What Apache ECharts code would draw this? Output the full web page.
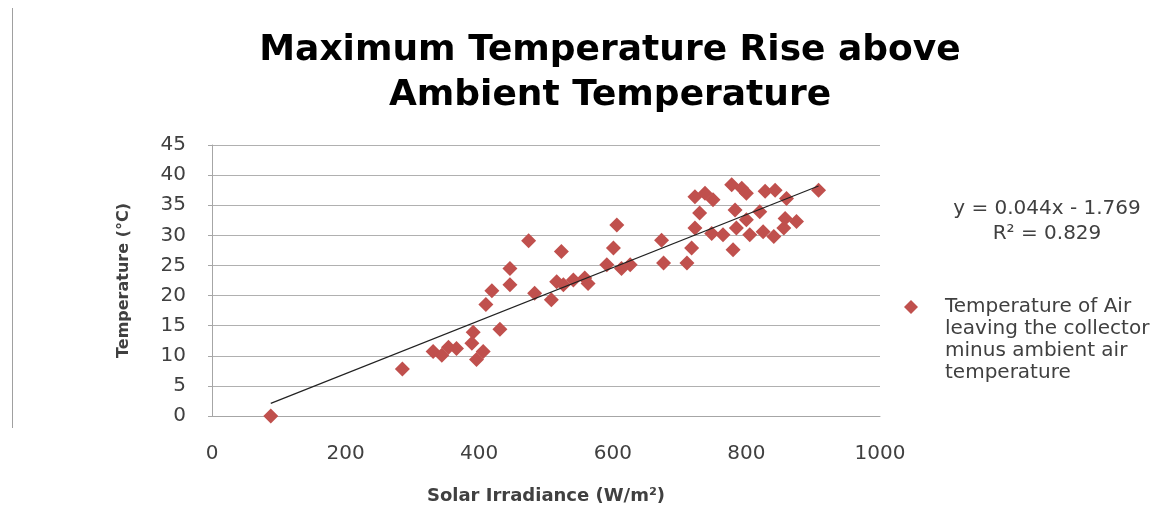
<!DOCTYPE html>
<html>
<head>
<meta charset="utf-8">
<script src="https://cdn.jsdelivr.net/npm/echarts@6/dist/echarts.min.js"></script>
<style>
html,body{margin:0;padding:0;background:#fff;}
#chart{width:1171px;height:529px;}
</style>
</head>
<body>
<div id="chart"></div>
<script>
var irradiance = [88, 285, 331, 344, 354, 366, 389, 391, 396, 406, 410, 419, 431, 446, 446, 474, 483, 508, 516, 523, 526, 541, 558, 563, 591, 601, 606, 613, 626, 673, 676, 711, 718, 723, 723, 730, 738, 748, 750, 765, 778, 780, 783, 785, 793, 800, 800, 805, 820, 825, 828, 841, 843, 856, 858, 860, 875, 908];
var tempRise   = [0, 7.8, 10.7, 10.1, 11.4, 11.2, 12.1, 13.9, 9.4, 10.7, 18.5, 20.8, 14.4, 21.8, 24.5, 29.1, 20.4, 19.3, 22.3, 27.3, 21.8, 22.6, 22.9, 22.0, 25.1, 27.9, 31.7, 24.5, 25.1, 29.2, 25.4, 25.4, 27.9, 36.4, 31.2, 33.7, 37.0, 30.3, 35.9, 30.1, 38.4, 27.6, 34.2, 31.2, 37.8, 37.0, 32.6, 30.1, 33.9, 30.6, 37.3, 29.8, 37.5, 31.2, 32.8, 36.1, 32.3, 37.5];
var trendSlope = 0.044;
var trendIntercept = -1.769;
var rSquared = 0.829;
var xTicks = [0, 200, 400, 600, 800, 1000];
var yTicks = [0, 5, 10, 15, 20, 25, 30, 35, 40, 45];
var seriesName = 'Temperature of Air\nleaving the collector\nminus ambient air\ntemperature';

var points = irradiance.map(function (x, i) { return [x, tempRise[i]]; });
var xMin = Math.min.apply(null, irradiance), xMax = Math.max.apply(null, irradiance);
var trend = [[xMin, trendSlope * xMin + trendIntercept], [xMax, trendSlope * xMax + trendIntercept]];

var chart = echarts.init(document.getElementById('chart'), null, {renderer: 'canvas'});
chart.setOption({
  backgroundColor: '#ffffff',
  animation: false,
  textStyle: {fontFamily: 'DejaVu Sans'},
  title: {
    text: 'Maximum Temperature Rise above\nAmbient Temperature',
    left: 605, top: 23, textAlign: 'center',
    textStyle: {fontFamily: 'DejaVu Sans', fontWeight: 'bold', fontSize: 36, lineHeight: 45, color: '#000'}
  },
  grid: {left: 212, right: 291, top: 145, bottom: 113, containLabel: false},
  xAxis: {
    type: 'value', min: xTicks[0], max: xTicks[xTicks.length - 1], interval: 200,
    name: 'Solar Irradiance (W/m²)', nameLocation: 'middle', nameGap: 71,
    nameTextStyle: {fontFamily: 'DejaVu Sans', fontWeight: 'bold', fontSize: 18, color: '#404040'},
    axisLine: {show: true, lineStyle: {color: '#a6a6a6', width: 1}},
    axisTick: {show: false},
    axisLabel: {margin: 28, fontSize: 20, color: '#404040', fontFamily: 'DejaVu Sans',
      formatter: function (v) { return String(v); }},
    splitLine: {show: false}
  },
  yAxis: {
    type: 'value', min: yTicks[0], max: yTicks[yTicks.length - 1], interval: 5,
    name: 'Temperature (°C)', nameLocation: 'middle', nameGap: 80,
    nameTextStyle: {fontFamily: 'DejaVu Sans', fontWeight: 'bold', fontSize: 16, color: '#404040'},
    axisLine: {show: true, lineStyle: {color: '#a6a6a6', width: 1}},
    axisTick: {show: true, length: 4, lineStyle: {color: '#a6a6a6'}},
    axisLabel: {margin: 26, fontSize: 20, color: '#404040', fontFamily: 'DejaVu Sans'},
    splitLine: {show: true, lineStyle: {color: '#b0b0b0', width: 1}}
  },
  legend: {
    left: 899, top: 225, orient: 'vertical',
    icon: 'diamond', itemWidth: 14, itemHeight: 14,
    data: [seriesName],
    formatter: function (name) { return '\n\n\n' + name; },
    textStyle: {fontSize: 20, lineHeight: 22, color: '#404040', fontFamily: 'DejaVu Sans', padding: [0, 0, 0, 22]}
  },
  graphic: [
    {type: 'line', shape: {x1: 12.5, y1: 8, x2: 12.5, y2: 428}, style: {stroke: '#a0a0a0', lineWidth: 1}},
    {type: 'text', x: 1047, y: 196, style: {
      text: 'y = ' + trendSlope.toFixed(3) + 'x - ' + Math.abs(trendIntercept).toFixed(3) + '\nR² = ' + rSquared.toFixed(3),
      x: 0, y: 0, align: 'center', verticalAlign: 'top',
      fontSize: 20, lineHeight: 25, fill: '#404040', fontFamily: 'DejaVu Sans'}}
  ],
  series: [
    {
      name: seriesName, type: 'scatter', data: points,
      symbol: 'diamond', symbolSize: 15,
      itemStyle: {color: '#C0504D', opacity: 1}, z: 3
    },
    {
      name: 'Linear trend', type: 'line', data: trend,
      symbol: 'none', lineStyle: {color: '#222222', width: 1.2}, z: 4, silent: true
    }
  ]
});
</script>
</body>
</html>
